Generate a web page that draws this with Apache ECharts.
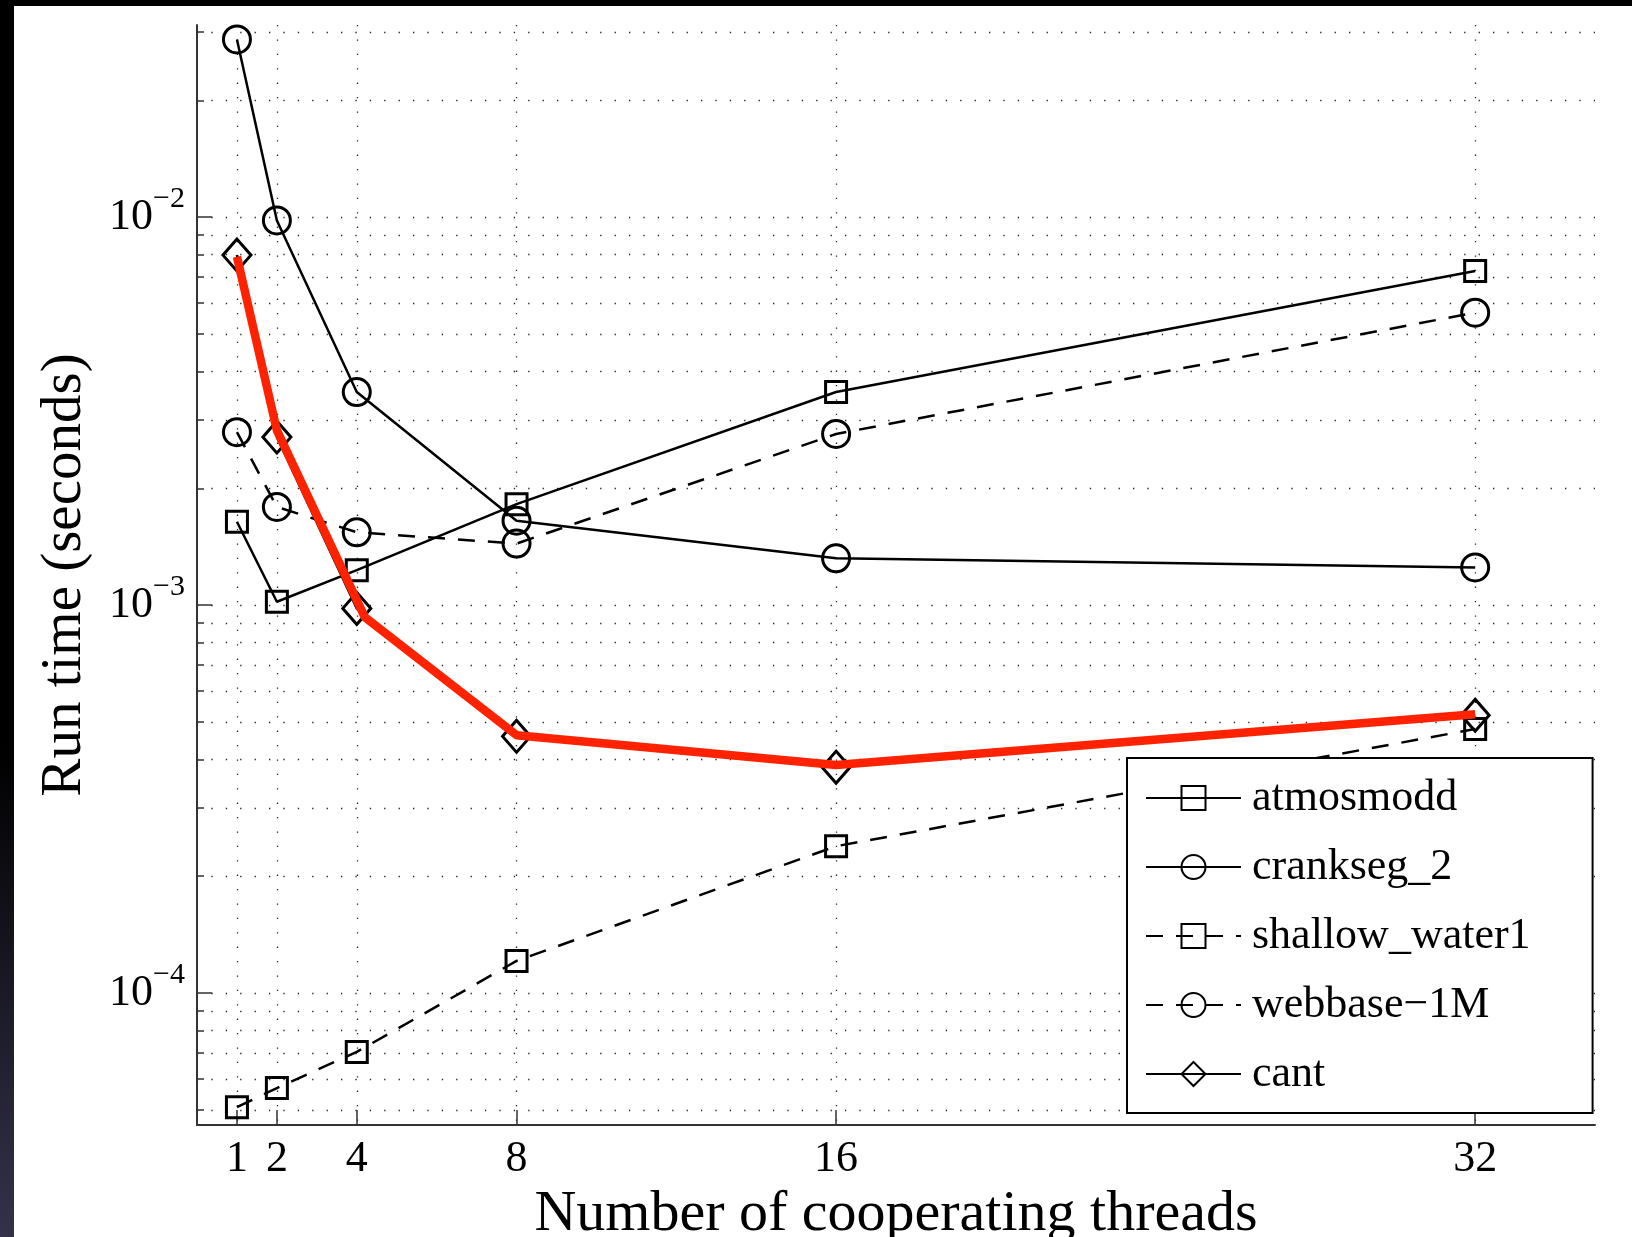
<!DOCTYPE html>
<html>
<head>
<meta charset="utf-8">
<script src="https://cdn.jsdelivr.net/npm/echarts@6/dist/echarts.min.js"></script>
<style>
html, body { margin: 0; padding: 0; width: 1632px; height: 1237px; overflow: hidden; }
body { background: linear-gradient(#000 0%, #000 60%, #34324a 100%); }
#paper { position: absolute; left: 14px; top: 6px; right: 0; bottom: 0; background: #fff; }
#chart { position: absolute; left: 0; top: 0; width: 1632px; height: 1237px; }
</style>
</head>
<body>
<div id="paper"></div>
<div id="chart"></div>
<script>
// thread counts on the x axis
const threads = [1, 2, 4, 8, 16, 32];

// run times in seconds
const atmosmodd = [1.64e-3, 1.02e-3, 1.23e-3, 1.82e-3, 3.54e-3, 7.26e-3];
const crankseg2 = [2.87e-2, 9.8e-3, 3.54e-3, 1.65e-3, 1.32e-3, 1.25e-3];
const shallowWater1 = [5.08e-5, 5.69e-5, 7.05e-5, 1.21e-4, 2.39e-4, 4.79e-4];
const webbase1M = [2.79e-3, 1.79e-3, 1.54e-3, 1.44e-3, 2.76e-3, 5.67e-3];
const cant = [7.98e-3, 2.71e-3, 9.8e-4, 4.59e-4, 3.82e-4, 5.2e-4];

// hand drawn red highlight over the cant curve
const highlightX = [1, 2, 4.2, 8, 16, 32];
const highlightY = [7.9e-3, 2.82e-3, 9.31e-4, 4.62e-4, 3.87e-4, 5.23e-4];

// axis ticks
const xTicks = [1, 2, 4, 8, 16, 32];
const decadeTicks = [1e-4, 1e-3, 1e-2];
const yMin = 4.57e-5;
const yMax = 3.126e-2;

// dotted grid at 1..9 x 10^k inside the range
const gridValues = [];
[-5, -4, -3, -2].forEach((e) => {
	for (let m = 1; m <= 9; m++) {
		const v = m * Math.pow(10, e);
		if (v >= yMin && v <= yMax) {
			gridValues.push(v);
		}
	}
});

const FONT = 'Liberation Serif';
const dotted = { color: '#222', width: 1.3, type: [1.3, 13.1] };
const pair = (ys) => threads.map((t, i) => [t, ys[i]]);

const lineSeries = (name, ys, symbol, size, dashed) => ({
	name,
	type: 'line',
	data: pair(ys),
	symbol,
	symbolSize: size,
	showSymbol: true,
	lineStyle: { color: '#000', width: 2.5, type: dashed ? [17, 13] : 'solid' },
	itemStyle: { color: 'rgba(0,0,0,0)', borderColor: '#000', borderWidth: 3 },
	emphasis: { disabled: true },
	z: 3
});

const chart = echarts.init(document.getElementById('chart'), null, { renderer: 'canvas' });

chart.setOption({
	animation: false,
	backgroundColor: 'transparent',
	color: ['#000'],
	grid: { left: 197, right: 37, top: 25, bottom: 112, containLabel: false, outerBoundsMode: 'none' },
	xAxis: {
		type: 'value',
		min: 0,
		max: 35,
		name: 'Number of cooperating threads',
		nameLocation: 'middle',
		nameGap: 53,
		nameTextStyle: { fontFamily: FONT, fontSize: 58, color: '#000' },
		axisLine: { show: true, lineStyle: { color: '#333', width: 2 } },
		axisTick: { show: true, inside: true, length: 15, customValues: xTicks, lineStyle: { color: '#333', width: 1.5 } },
		axisLabel: { show: true, customValues: xTicks, margin: 12, fontFamily: FONT, fontSize: 44, color: '#000' },
		splitLine: { show: true, lineStyle: dotted }
	},
	yAxis: [
		{
			type: 'log',
			logBase: 10,
			min: yMin,
			max: yMax,
			position: 'left',
			name: 'Run time (seconds)',
			nameLocation: 'middle',
			nameGap: 103,
			nameTextStyle: { fontFamily: FONT, fontSize: 57, color: '#000' },
			axisLine: { show: true, lineStyle: { color: '#333', width: 2 } },
			axisTick: { show: true, inside: true, length: 7, customValues: gridValues, lineStyle: { color: '#333', width: 1.5 } },
			axisLabel: { show: false },
			splitLine: { show: true, lineStyle: dotted }
		},
		{
			type: 'log',
			logBase: 10,
			min: yMin,
			max: yMax,
			position: 'left',
			axisLine: { show: false },
			axisTick: { show: true, inside: true, length: 15, customValues: decadeTicks, lineStyle: { color: '#333', width: 1.5 } },
			axisLabel: {
				show: true,
				customValues: decadeTicks,
				margin: 12,
				formatter: (v) => '{b|10}{s|\u2212' + (-Math.round(Math.log10(v))) + '}',
				rich: {
					b: { fontFamily: FONT, fontSize: 44, lineHeight: 44, color: '#000', verticalAlign: 'middle' },
					s: { fontFamily: FONT, fontSize: 30, lineHeight: 30, color: '#000', verticalAlign: 'middle', padding: [0, 0, 36, 0] }
				}
			},
			splitLine: { show: false }
		}
	],
	legend: {
		data: ['atmosmodd', 'crankseg_2', 'shallow_water1', 'webbase\u22121M', 'cant'],
		orient: 'vertical',
		left: 1127,
		top: 758,
		padding: [15, 62, 14, 18],
		itemGap: 19,
		itemWidth: 95,
		itemHeight: 30,
		backgroundColor: '#fff',
		borderColor: '#000',
		borderWidth: 2,
		borderRadius: 0,
		selectedMode: false,
		textStyle: { fontFamily: FONT, fontSize: 44, lineHeight: 50, color: '#000', padding: [0, 0, 0, 6] }
	},
	series: [
		lineSeries('atmosmodd', atmosmodd, 'rect', 21, false),
		lineSeries('crankseg_2', crankseg2, 'circle', 27, false),
		lineSeries('shallow_water1', shallowWater1, 'rect', 21, true),
		lineSeries('webbase\u22121M', webbase1M, 'circle', 27, true),
		lineSeries('cant', cant, 'diamond', [28, 32], false),
		{
			name: 'highlight',
			type: 'line',
			data: highlightX.map((x, i) => [x, highlightY[i]]),
			symbol: 'none',
			lineStyle: { color: '#ff2200', width: 8.5 },
			emphasis: { disabled: true },
			z: 5
		}
	]
});
</script>
</body>
</html>
